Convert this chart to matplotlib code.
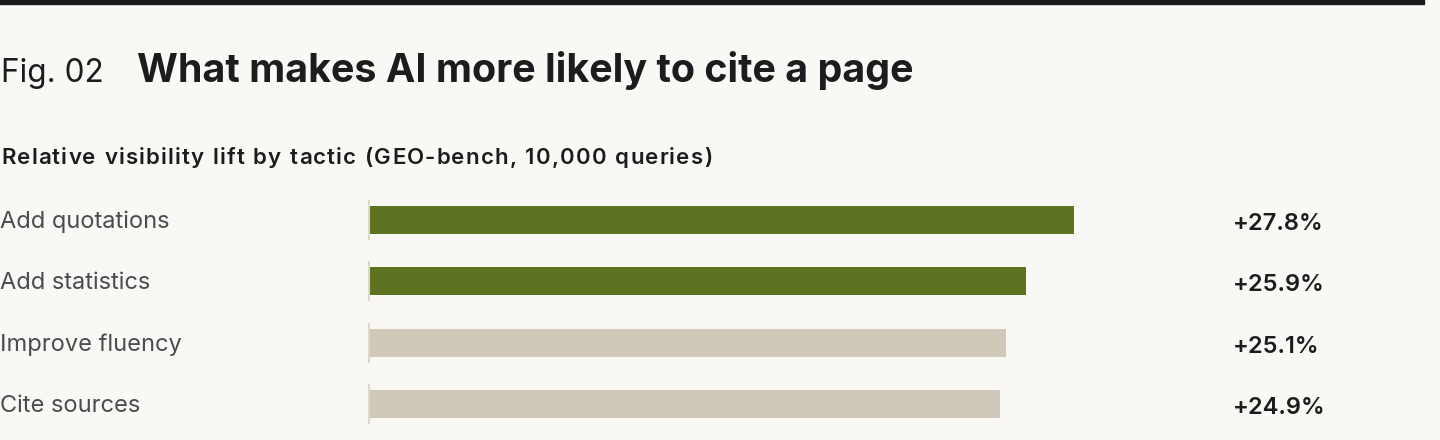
import matplotlib
matplotlib.use('Agg')
import matplotlib.pyplot as plt
from matplotlib.transforms import blended_transform_factory, offset_copy

tactics = ['Add quotations', 'Add statistics', 'Improve fluency', 'Cite sources']
lift = [27.8, 25.9, 25.1, 24.9]
highlight = [True, True, False, False]
value_labels = ['+27.8%', '+25.9%', '+25.1%', '+24.9%']

bg = '#f9f8f4'
green = '#5e7321'
beige = '#d0c8b8'
dark = '#1c1c1e'
grey = '#4b4b50'
divider = '#dcd8cc'

plt.rcParams['font.family'] = ['Inter', 'DejaVu Sans']

W, H = 1440, 440
fig = plt.figure(figsize=(W / 100, H / 100), dpi=100, facecolor=bg)
renderer = fig.canvas.get_renderer()

# black rule across the top
fig.patches.append(plt.Rectangle((0, 1 - 4 / H), 1424 / W, 4 / H,
                                 transform=fig.transFigure, color='#1a1a1a'))

fig.text(1 / W, 1 - 82 / H, 'Fig. 02', fontsize=22.7, color=dark,
         va='baseline', ha='left')
fig.text(137 / W, 1 - 82 / H, 'What makes AI more likely to cite a page',
         fontsize=28.4, fontweight='bold', color=dark, va='baseline', ha='left')


def tracked_text(x_px, y_px, s, tracking_px, **kw):
    # draw text one character at a time to get letter spacing
    x = x_px
    for ch in s:
        t = fig.text(x / W, 1 - y_px / H, ch, va='baseline', ha='left', **kw)
        if ch == ' ':
            w = t.get_fontsize() * 100 / 72 * 0.28
        else:
            w = t.get_window_extent(renderer).width
        x += w + tracking_px


tracked_text(1, 164, 'Relative visibility lift by tactic (GEO-bench, 10,000 queries)',
             1.2, fontsize=16, fontweight='semibold', color=dark)

# axes: left edge at x=370px, rows from 189px to 435px
px_per_unit = 25.32
ax_left, ax_right = 370, 1200
row_h = 61.33
top, bottom = 189.33, 189.33 + 4 * row_h
ax = fig.add_axes([ax_left / W, 1 - bottom / H, (ax_right - ax_left) / W, (bottom - top) / H])
ax.set_facecolor(bg)
ax.set_xlim(0, (ax_right - ax_left) / px_per_unit)
ax.set_ylim(len(tactics) - 0.5, -0.5)
ax.axis('off')

ys = list(range(len(tactics)))
colors = [green if h else beige for h in highlight]

for y in ys:
    ax.plot([-1 / px_per_unit, -1 / px_per_unit], [y - 20 / row_h, y + 20 / row_h],
            color=divider, lw=1.5, solid_capstyle='butt', clip_on=False)

ax.barh(ys, lift, height=28 / row_h, color=colors, left=0)

lab_tr = offset_copy(blended_transform_factory(fig.transFigure, ax.transData),
                     fig=fig, x=0, y=-8, units='dots')
for y, name, val in zip(ys, tactics, value_labels):
    ax.text(0 / W, y, name, transform=lab_tr, fontsize=17, color=grey,
            va='baseline', ha='left')
    ax.text(1233 / W, y, val, transform=offset_copy(lab_tr, fig=fig, x=0, y=-2, units='dots'),
            fontsize=17, fontweight='semibold', color=dark, va='baseline', ha='left')

fig.savefig('out.png', dpi=100, facecolor=bg)
